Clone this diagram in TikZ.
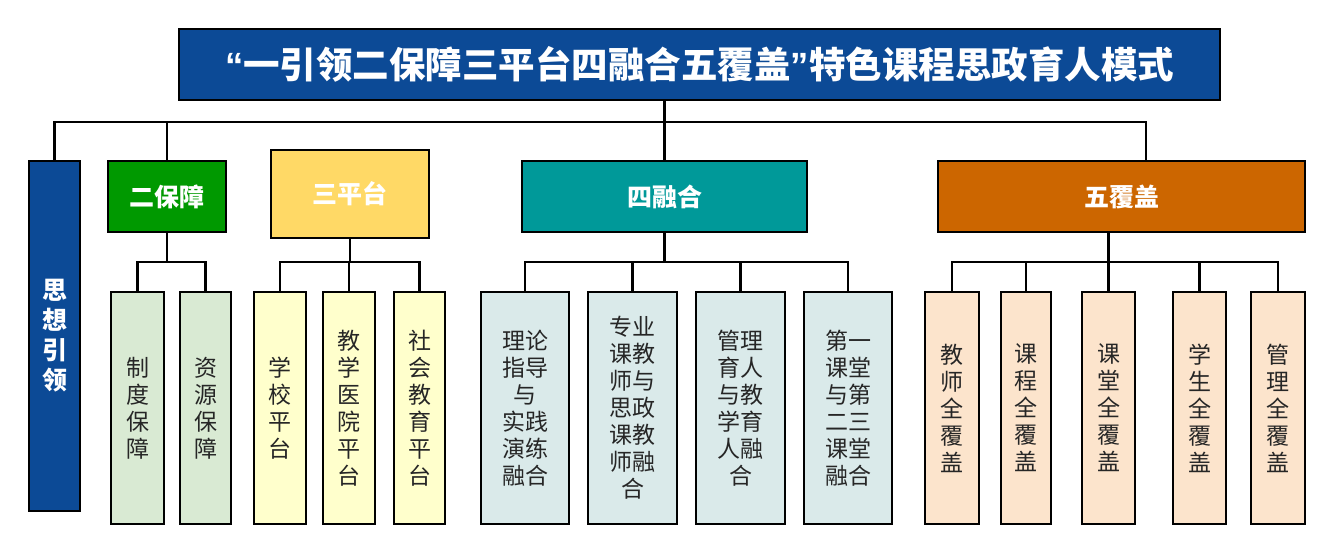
\documentclass[tikz,border=0pt]{standalone}
\usepackage{fontspec}
\setmainfont{Noto Sans CJK SC}
\newfontfamily\quotefont{Liberation Sans}
\usetikzlibrary{calc}
\definecolor{tblue}{RGB}{12,74,150}
\definecolor{tgreen}{RGB}{0,153,0}
\definecolor{tyellow}{RGB}{255,217,102}
\definecolor{tteal}{RGB}{0,153,153}
\definecolor{torange}{RGB}{204,102,0}
\definecolor{sgreen}{RGB}{217,234,211}
\definecolor{syellow}{RGB}{255,255,204}
\definecolor{steal}{RGB}{218,234,234}
\definecolor{sorange}{RGB}{252,228,204}
\tikzset{
  bx/.style={draw=black, line width=2.5pt, inner sep=0pt, align=center},
  head/.style={bx, text=white, font=\bfseries\fontsize{25}{30}\selectfont, minimum height=71pt},
  sub/.style={bx, text=black!85, font=\fontsize{23}{27}\selectfont, minimum height=232pt},
  conn/.style={draw=black, line width=2.5pt}
}
\begin{document}
\begin{tikzpicture}[x=1pt,y=-1pt]
\useasboundingbox (0,0) rectangle (1333,552);
% title
\node[bx, fill=tblue, text=white, font=\bfseries\fontsize{36.5}{40}\selectfont, minimum width=1041pt, minimum height=71pt] (title) at (699.5,64.5) {{\quotefont“}一引领二保障三平台四融合五覆盖{\quotefont”}特色课程思政育人模式};
% level 2
\node[head, fill=tblue, minimum width=51pt, minimum height=350pt] (lead) at (54.5,336) {思\\想\\引\\领};
\node[head, fill=tgreen, minimum width=118pt] (er) at (167,196.5) {二保障};
\node[head, fill=tyellow, minimum width=158pt, minimum height=88pt] (san) at (350,194) {三平台};
\node[head, fill=tteal, minimum width=285pt] (si) at (664.5,196.5) {四融合};
\node[head, fill=torange, minimum width=367pt] (wu) at (1121.5,196.5) {五覆盖};
% level 3
\node[sub, fill=sgreen, minimum width=53pt] (a1) at (137.5,408) {制\\度\\保\\障};
\node[sub, fill=sgreen, minimum width=51pt] (a2) at (205.5,408) {资\\源\\保\\障};
\node[sub, fill=syellow, minimum width=52pt] (b1) at (280,408) {学\\校\\平\\台};
\node[sub, fill=syellow, minimum width=52pt] (b2) at (349,408) {教\\学\\医\\院\\平\\台};
\node[sub, fill=syellow, minimum width=51pt] (b3) at (419.5,408) {社\\会\\教\\育\\平\\台};
\node[sub, fill=steal, minimum width=88pt] (c1) at (525,408) {理论\\指导\\与\\实践\\演练\\融合};
\node[sub, fill=steal, minimum width=89pt] (c2) at (632.5,408) {专业\\课教\\师与\\思政\\课教\\师融\\合};
\node[sub, fill=steal, minimum width=89pt] (c3) at (740.5,408) {管理\\育人\\与教\\学育\\人融\\合};
\node[sub, fill=steal, minimum width=88pt] (c4) at (848,408) {第一\\课堂\\与第\\二三\\课堂\\融合};
\node[sub, fill=sorange, minimum width=54pt] (d1) at (952,408) {教\\师\\全\\覆\\盖};
\node[sub, fill=sorange, minimum width=50pt] (d2) at (1026,408) {课\\程\\全\\覆\\盖};
\node[sub, fill=sorange, minimum width=53pt] (d3) at (1108.5,408) {课\\堂\\全\\覆\\盖};
\node[sub, fill=sorange, minimum width=53pt] (d4) at (1199.5,408) {学\\生\\全\\覆\\盖};
\node[sub, fill=sorange, minimum width=54pt] (d5) at (1278,408) {管\\理\\全\\覆\\盖};
% bus coordinates
\coordinate (busY) at (0,122);
\coordinate (subY) at (0,262);
\coordinate (wuIn) at ([xshift=24.5pt]wu.north);
% top level connectors
\draw[conn] (si.north |- title.south) -- (si.north);
\draw[conn] (lead.north) -- (lead.north |- busY) -- (wuIn |- busY) -- (wuIn);
\draw[conn] (er.north) -- (er.north |- busY);
% 二保障
\draw[conn] (er.south) -- (er.south |- subY);
\draw[conn] (a1.north) |- (a2.north |- subY) -- (a2.north);
% 三平台
\draw[conn] (san.south) -- (san.south |- subY);
\draw[conn] (b1.north) |- (b3.north |- subY) -- (b3.north);
\draw[conn] (b2.north) -- (b2.north |- subY);
% 四融合
\draw[conn] (si.south) -- (si.south |- subY);
\draw[conn] (c1.north) |- (c4.north |- subY) -- (c4.north);
\draw[conn] (c2.north) -- (c2.north |- subY);
\draw[conn] (c3.north) -- (c3.north |- subY);
% 五覆盖
\draw[conn] (d3.north |- wu.south) -- (d3.north);
\draw[conn] (d1.north) |- (d5.north |- subY) -- (d5.north);
\draw[conn] (d2.north) -- (d2.north |- subY);
\draw[conn] (d4.north) -- (d4.north |- subY);
\end{tikzpicture}
\end{document}
